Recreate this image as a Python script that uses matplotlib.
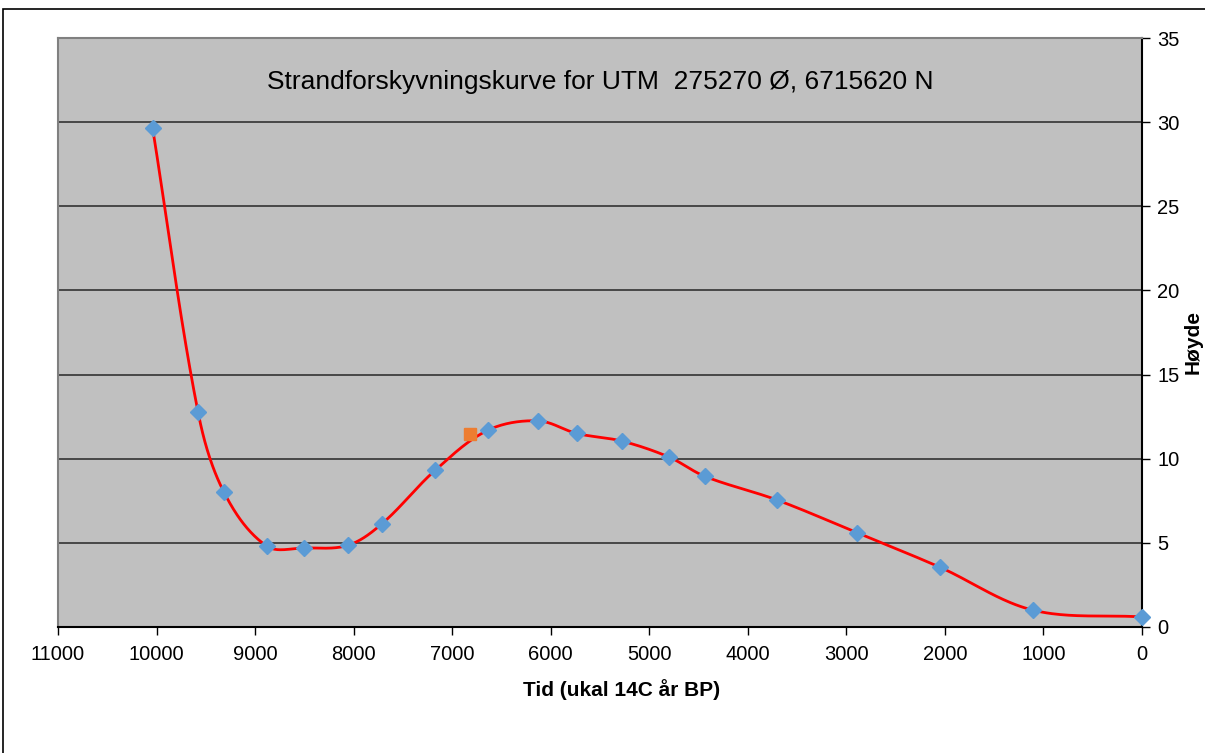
import numpy as np
import matplotlib
matplotlib.use("Agg")
import matplotlib.pyplot as plt
from matplotlib.patches import Rectangle

plt.rcParams['font.family'] = ['Liberation Sans', 'DejaVu Sans']

# shoreline displacement points (years BP, height m)
years = [10040, 9580, 9315, 8880, 8500, 8060, 7710, 7175, 6635, 6130,
         5735, 5280, 4800, 4435, 3705, 2890, 2050, 1105, 0]
heights = [29.65, 12.8, 8.0, 4.8, 4.7, 4.85, 6.15, 9.3, 11.7, 12.25,
           11.5, 11.05, 10.1, 8.95, 7.55, 5.6, 3.55, 1.0, 0.6]
extra_year = [6820]
extra_height = [11.45]


def smooth(x, y, n=40):
    # smoothed line: cubic Bezier, tangent from neighbours, handle length from segment
    p = np.column_stack([x, y]).astype(float)
    scale = np.array([1000.0, 5.0])
    q = p / scale
    m = len(q)
    tang = []
    for i in range(m):
        a = q[i - 1] if i > 0 else q[i]
        b = q[i + 1] if i < m - 1 else q[i]
        d = b - a
        tang.append(d / np.linalg.norm(d))
    out = []
    t = np.linspace(0, 1, n)[:, None]
    for i in range(m - 1):
        L = np.linalg.norm(q[i + 1] - q[i])
        c1 = q[i] + tang[i] * L / 3
        c2 = q[i + 1] - tang[i + 1] * L / 3
        seg = ((1 - t) ** 3 * q[i] + 3 * (1 - t) ** 2 * t * c1
               + 3 * (1 - t) * t ** 2 * c2 + t ** 3 * q[i + 1])
        out.append(seg)
    out = np.vstack(out) * scale
    return out[:, 0], out[:, 1]


fig = plt.figure(figsize=(12.05, 7.53), dpi=100)
fig.patches.append(Rectangle((3 / 1205, -0.1), 1.2, (753 - 9) / 753 + 0.1,
                             transform=fig.transFigure, fill=False,
                             edgecolor='black', linewidth=1.2))
ax = fig.add_axes([58 / 1205, 1 - 627 / 753, (1142 - 58) / 1205, (627 - 38) / 753])
ax.set_facecolor('#C0C0C0')

for v in range(5, 35, 5):
    ax.axhline(v, color='#333333', linewidth=1.2, zorder=1)

sx, sy = smooth(years, heights)
ax.plot(sx, sy, color='#FF0000', linewidth=2, zorder=3)
ax.plot(years, heights, linestyle='none', marker='D', markersize=8,
        color='#5B9BD5', zorder=4, clip_on=False)
ax.plot(extra_year, extra_height, linestyle='none', marker='s', markersize=8.5,
        color='#ED7D31', zorder=4)

ax.set_xlim(11000, 0)
ax.set_ylim(0, 35)
ax.set_xticks(range(0, 11001, 1000))
ax.set_yticks(range(0, 36, 5))
ax.yaxis.tick_right()
ax.yaxis.set_label_position('right')
ax.tick_params(axis='both', direction='out', length=6, width=1, labelsize=14.5,
               color='black')
ax.tick_params(axis='x', pad=7)
ax.tick_params(axis='y', pad=5)

ax.spines['top'].set_color('#808080')
ax.spines['left'].set_color('#808080')
ax.spines['right'].set_color('black')
ax.spines['bottom'].set_color('black')
for s in ax.spines.values():
    s.set_linewidth(1.5)

ax.set_xlabel('Tid (ukal 14C år BP)', fontsize=15, fontweight='bold', va='center')
ax.xaxis.set_label_coords((622 - 58) / 1084, (627 - 690) / 589)
ax.set_ylabel('Høyde', fontsize=15, fontweight='bold', va='center')
ax.yaxis.set_label_coords((1193 - 58) / 1084, (627 - 342) / 589)

ax.text(0.5, 0.925, 'Strandforskyvningskurve for UTM  275270 Ø, 6715620 N',
        transform=ax.transAxes, ha='center', va='center', fontsize=19)

plt.savefig('out.png', dpi=100)
